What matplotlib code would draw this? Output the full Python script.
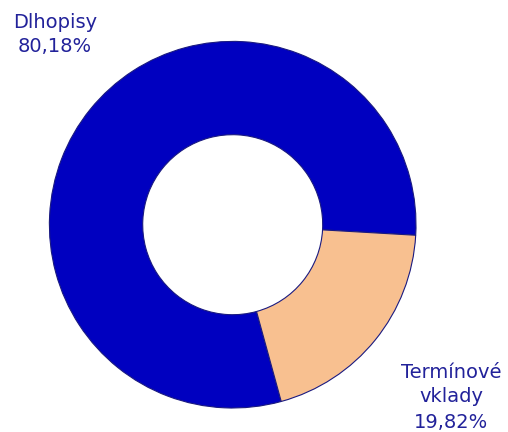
import matplotlib.pyplot as plt

labels = ["Dlhopisy", "Termínové\nvklady"]
shares = [80.18, 19.82]
colors = ["#0000C0", "#F8C090"]

W, H = 508, 432
fig = plt.figure(figsize=(W / 100, H / 100), dpi=100)
ax = fig.add_axes([0, 0, 1, 1])

# donut drawn in pixel coords (y counted from bottom)
cx, cy, r = 232.7, H - 224.7, 183.3
ax.pie(shares, colors=colors, startangle=-3.3, counterclock=True,
       center=(cx, cy), radius=r, frame=True,
       wedgeprops=dict(width=r - 90, edgecolor="#1a1a80", linewidth=0.8))
ax.set_xlim(0, W)
ax.set_ylim(0, H)
ax.set_aspect("equal")
ax.axis("off")

# va="baseline" on multi-line text pins the last line's baseline
txt_kw = dict(fontsize=14, family=["DejaVu Sans"], color="#22229a",
              ha="center", va="baseline", linespacing=1.4)


def label_text(name, pct):
    return f"{name}\n{pct:.2f}%".replace(".", ",")


ax.text(55, H - 52.5, label_text(labels[0], shares[0]), **txt_kw)
ax.text(451, H - 427.5, label_text(labels[1], shares[1]), **txt_kw)

fig.savefig("out.png", dpi=100)
